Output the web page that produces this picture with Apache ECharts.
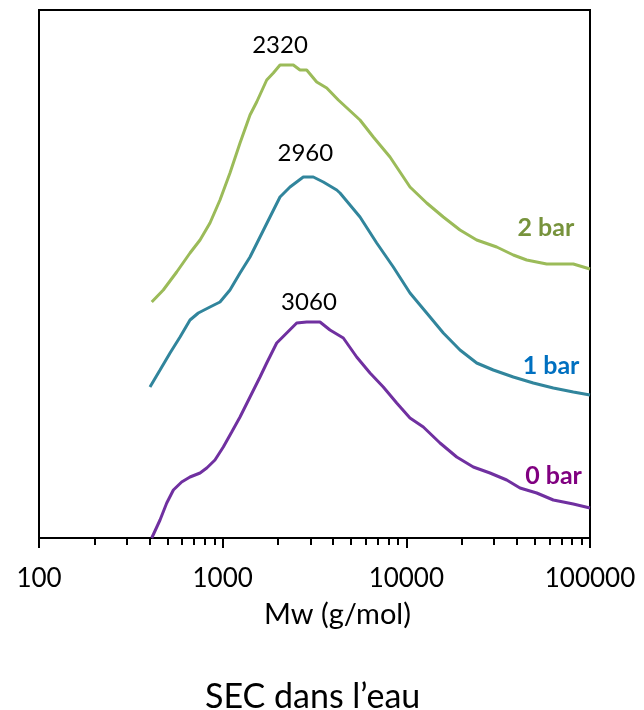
<!DOCTYPE html>
<html>
<head>
<meta charset="utf-8">
<script src="https://cdn.jsdelivr.net/npm/echarts@6/dist/echarts.min.js"></script>
<style>
html,body{margin:0;padding:0;background:#fff;}
#chart{width:644px;height:710px;}
</style>
</head>
<body>
<div id="chart"></div>
<script>
// ---- data (Mw in g/mol, signal in arbitrary units) ----
var mw2bar = [411,475,562,664,753,853,967,1096,1243,1409,1532,1737,1887,2052,2425,2636,2867,3251,3686,4263,5594,6610,8147,10469,12909,15900,19598,24160,31050,38230,45220,58110,81120,100000];
var sig2bar = [236,248,266,285,298,315,338,365,395,423,436,458,465,473,473,468,468,456,450,438,418,401,381,351,335,321,308,298,291,283,278,274,274,269];

var mw1bar = [402,456,517,586,664,737,853,967,1096,1243,1409,1597,1810,2052,2326,2748,3115,3531,4178,4354,5594,6898,8492,10469,12909,15900,19598,24160,29750,38230,49120,63130,81120,100000];
var sig1bar = [151,168,185,201,218,225,231,236,248,265,281,301,321,341,351,361,361,356,348,345,321,295,271,245,225,205,188,175,168,161,155,150,146,143];

var mw0bar = [411,456,496,539,598,664,753,819,908,1008,1120,1243,1409,1597,1737,1969,2232,2530,2867,3388,3840,4539,5366,6342,7491,8862,10469,12374,15253,18808,23150,28540,35200,41580,51280,63130,81120,100000];
var sig0bar = [0,18,35,48,56,61,65,70,78,91,106,121,141,161,175,195,205,215,216,216,208,200,181,165,151,135,120,111,95,81,71,65,58,50,45,38,34,30];

var seriesNames = ['2 bar', '1 bar', '0 bar'];
var peakLabels = ['2320', '2960', '3060'];
var majorTicks = [100, 1000, 10000, 100000];
var minorTicks = [200,300,400,500,600,700,800,900,2000,3000,4000,5000,6000,7000,8000,9000,20000,30000,40000,50000,60000,70000,80000,90000];

function pairs(xs, ys){ return xs.map(function(x,i){ return [x, ys[i]]; }); }

var FONT = 'Lato, "Open Sans", sans-serif';
var lineColors = ['#9BBB59', '#31859C', '#7030A0'];
var textColors = ['#77933C', '#0070C0', '#800080'];

// annotation placements (data coords)
var peakPos = [[2052, 493], [2820, 385], [2950, 236]];
var namePos = [[57550, 310], [61370, 172], [63300, 62]];

function mkSeries(idx, data){
  return {
    name: seriesNames[idx],
    type: 'line',
    data: data,
    symbol: 'none',
    smooth: false,
    lineStyle: {color: lineColors[idx], width: 3},
    itemStyle: {color: lineColors[idx]},
    animation: false,
    markPoint: {
      symbol: 'circle', symbolSize: 0, animation: false,
      data: [
        {coord: peakPos[idx], value: peakLabels[idx],
         label: {show: true, position: 'inside', formatter: peakLabels[idx],
                 color: '#000', fontFamily: FONT, fontSize: 24}},
        {coord: namePos[idx], value: seriesNames[idx],
         label: {show: true, position: 'inside', formatter: seriesNames[idx],
                 color: textColors[idx], fontFamily: FONT, fontSize: 25, fontWeight: 'bold'}}
      ]
    }
  };
}

var chart = echarts.init(document.getElementById('chart'), null, {renderer: 'canvas'});
chart.setOption({
  backgroundColor: '#fff',
  animation: false,
  title: {
    text: 'SEC dans l\u2019eau',
    left: 200, top: 675,
    textStyle: {fontFamily: FONT, fontSize: 34, fontWeight: 'normal', color: '#000'}
  },
  grid: {left: 39, top: 10, width: 551, height: 528, show: true, borderColor: '#000', borderWidth: 2, backgroundColor: 'transparent'},
  xAxis: [{
    type: 'log', logBase: 10, min: 100, max: 100000,
    name: 'Mw (g/mol)', nameLocation: 'middle', nameGap: 62,
    nameTextStyle: {fontFamily: FONT, fontSize: 29, color: '#000', padding: [0, 0, 0, 46]},
    axisLine: {show: true, lineStyle: {color: '#000', width: 2}},
    axisTick: {show: true, inside: false, length: 10, lineStyle: {color: '#000', width: 2}, customValues: majorTicks},
    axisLabel: {show: true, margin: 28, fontFamily: FONT, fontSize: 26, color: '#000', customValues: majorTicks,
      formatter: function(v){ return String(Math.round(v)); }},
    splitLine: {show: false}, minorTick: {show: false}, minorSplitLine: {show: false}
  }, {
    type: 'log', logBase: 10, min: 100, max: 100000, position: 'bottom',
    axisLine: {show: false},
    axisTick: {show: true, inside: false, length: 7, lineStyle: {color: '#000', width: 2}, customValues: minorTicks},
    axisLabel: {show: false},
    splitLine: {show: false}
  }],
  yAxis: {
    type: 'value', min: 0, max: 528,
    axisLine: {show: true, lineStyle: {color: '#000', width: 2}},
    axisTick: {show: false}, axisLabel: {show: false}, splitLine: {show: false}
  },
  series: [
    mkSeries(0, pairs(mw2bar, sig2bar)),
    mkSeries(1, pairs(mw1bar, sig1bar)),
    mkSeries(2, pairs(mw0bar, sig0bar))
  ]
});
</script>
</body>
</html>
